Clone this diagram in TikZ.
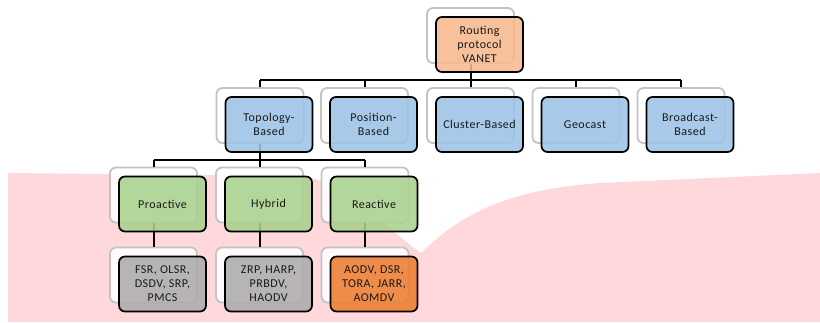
\documentclass[tikz,border=0pt]{standalone}
\usepackage{fontspec}
\setmainfont{Carlito}[LetterSpace=4]
\definecolor{pinkbg}{RGB}{255,216,220}
\definecolor{rootfill}{RGB}{246,185,142}
\definecolor{bluefill}{RGB}{157,195,230}
\definecolor{greenfill}{RGB}{169,209,142}
\definecolor{greyfill}{RGB}{174,171,171}
\definecolor{orangefill}{RGB}{237,125,49}
\definecolor{ghostline}{RGB}{195,195,195}
\begin{document}
\begin{tikzpicture}[x=1pt,y=-1pt,
  ghostbox/.style={draw=ghostline, line width=1.8pt, fill=white, fill opacity=0.9,
    rounded corners=6pt, minimum width=87pt, minimum height=55pt, inner sep=0pt},
  mainbox/.style={draw=black, line width=1.7pt, fill opacity=0.88, text opacity=1,
    rounded corners=6pt, minimum width=87pt, minimum height=55pt, inner sep=0pt,
    align=center, text=black!90, font=\fontsize{12}{14}\selectfont},
  conn/.style={draw=black, line width=2pt}]
\useasboundingbox (0,0) rectangle (820,322);
\fill[pinkbg] (8,173) -- (300,176) .. controls (345,180) and (385,228) .. (421,253)
  .. controls (460,215) and (505,190) .. (600,183) -- (820,173) -- (820,322) -- (8,322) -- cycle;
\coordinate (busA) at (0,79.5);
\coordinate (busB) at (0,160);
% ghost boxes
\foreach \n/\x/\y in {root/479.5/44.5, top/269/124.5, pos/373.5/124.5, clu/479.5/124.5,
  geo/585/124.5, bro/690/124.5, pro/162.5/204, hyb/268.5/204, rea/374/204,
  prol/162.5/284, hybl/268.5/284, real/374/284}
  \node[ghostbox] (\n g) at (\x-9,\y-9) {};
% connectors
\draw[conn] (rootg.south) -- (rootg.south |- busA);
\draw[conn] (topg.north |- busA) -- (brog.north |- busA);
\foreach \n in {top,pos,clu,geo,bro}
  \draw[conn] (\n g.north |- busA) -- (\n g.north);
\draw[conn] (topg.south) -- (topg.south |- busB);
\draw[conn] (prog.north |- busB) -- (reag.north |- busB);
\foreach \n in {pro,hyb,rea}
  \draw[conn] (\n g.north |- busB) -- (\n g.north);
\foreach \n in {pro,hyb,rea}
  \draw[conn] (\n g.south) -- (\n lg.north);
% main boxes
\node[mainbox, fill=rootfill] (root) at (479.5,44.5) {Routing\\protocol\\VANET};
\node[mainbox, fill=bluefill] (top) at (269,124.5) {Topology-\\Based};
\node[mainbox, fill=bluefill] (pos) at (373.5,124.5) {Position-\\Based};
\node[mainbox, fill=bluefill] (clu) at (479.5,124.5) {Cluster-Based};
\node[mainbox, fill=bluefill] (geo) at (585,124.5) {Geocast};
\node[mainbox, fill=bluefill] (bro) at (690,124.5) {Broadcast-\\Based};
\node[mainbox, fill=greenfill] (pro) at (162.5,204) {Proactive};
\node[mainbox, fill=greenfill] (hyb) at (268.5,204) {Hybrid};
\node[mainbox, fill=greenfill] (rea) at (374,204) {Reactive};
\node[mainbox, fill=greyfill] (prol) at (162.5,284) {FSR, OLSR,\\DSDV, SRP,\\PMCS};
\node[mainbox, fill=greyfill] (hybl) at (268.5,284) {ZRP, HARP,\\PRBDV,\\HAODV};
\node[mainbox, fill=orangefill] (real) at (374,284) {AODV, DSR,\\TORA, JARR,\\AOMDV};
\end{tikzpicture}
\end{document}
